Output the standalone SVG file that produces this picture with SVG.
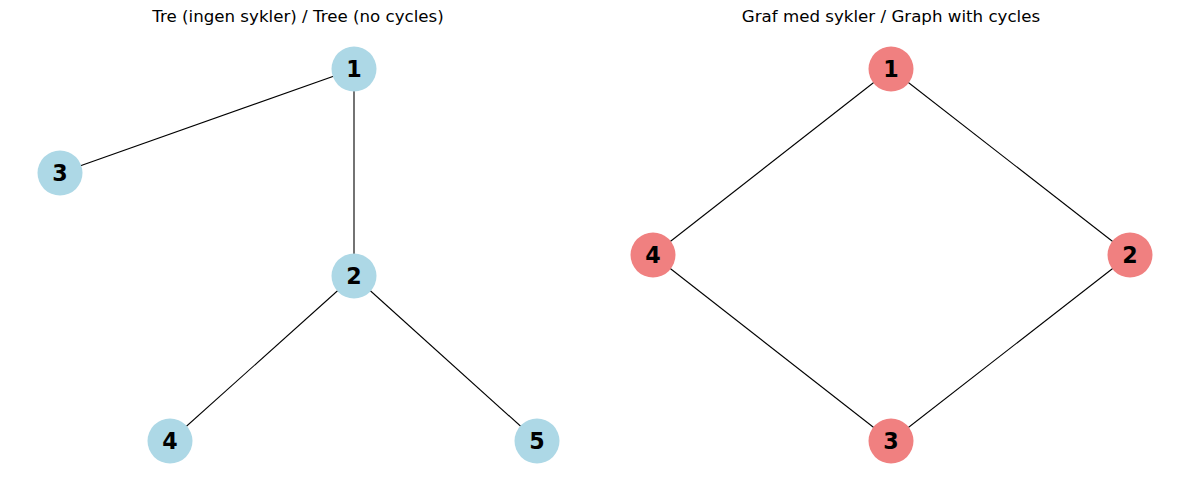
<svg xmlns="http://www.w3.org/2000/svg" width="1189" height="490" viewBox="0 0 1189 490">
<style>
.title{font-family:"DejaVu Sans",sans-serif;font-size:16.67px;fill:#000;text-anchor:middle}
.lbl{font-family:"DejaVu Sans",sans-serif;font-size:22.2px;font-weight:bold;fill:#000;text-anchor:middle;dominant-baseline:central}
.blue{fill:#add8e6}
.red{fill:#f08080}
.edge{stroke:#000;stroke-width:1.1;fill:none}
</style>
<rect width="1189" height="490" fill="#fff"/>
<text class="title" x="298" y="22">Tre (ingen sykler) / Tree (no cycles)</text>
<text class="title" x="891" y="22">Graf med sykler / Graph with cycles</text>
<g id="connectors">
<line class="edge" x1="354" y1="69" x2="60" y2="173"/>
<line class="edge" x1="354" y1="69" x2="354" y2="276"/>
<line class="edge" x1="354" y1="276" x2="170" y2="441"/>
<line class="edge" x1="354" y1="276" x2="537" y2="441"/>
<line class="edge" x1="891" y1="69" x2="653" y2="255"/>
<line class="edge" x1="891" y1="69" x2="1130" y2="255"/>
<line class="edge" x1="653" y1="255" x2="891" y2="441"/>
<line class="edge" x1="1130" y1="255" x2="891" y2="441"/>
</g>
<g id="tree-1"><circle class="blue" cx="354" cy="69" r="22.5"/><text class="lbl" x="354" y="69">1</text></g>
<g id="tree-3"><circle class="blue" cx="60" cy="173" r="22.5"/><text class="lbl" x="60" y="173">3</text></g>
<g id="tree-2"><circle class="blue" cx="354" cy="276" r="22.5"/><text class="lbl" x="354" y="276">2</text></g>
<g id="tree-4"><circle class="blue" cx="170" cy="441" r="22.5"/><text class="lbl" x="170" y="441">4</text></g>
<g id="tree-5"><circle class="blue" cx="537" cy="441" r="22.5"/><text class="lbl" x="537" y="441">5</text></g>
<g id="cyc-1"><circle class="red" cx="891" cy="69" r="22.5"/><text class="lbl" x="891" y="69">1</text></g>
<g id="cyc-4"><circle class="red" cx="653" cy="255" r="22.5"/><text class="lbl" x="653" y="255">4</text></g>
<g id="cyc-2"><circle class="red" cx="1130" cy="255" r="22.5"/><text class="lbl" x="1130" y="255">2</text></g>
<g id="cyc-3"><circle class="red" cx="891" cy="441" r="22.5"/><text class="lbl" x="891" y="441">3</text></g>
</svg>
